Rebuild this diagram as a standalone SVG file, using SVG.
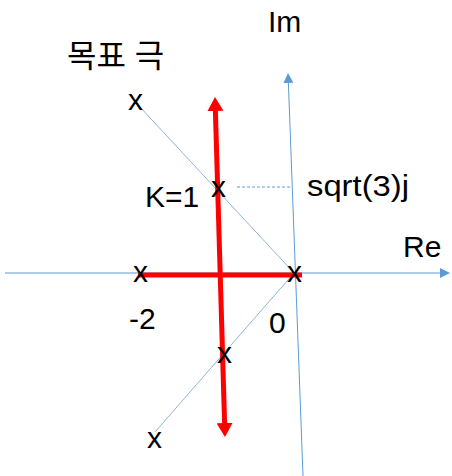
<svg xmlns="http://www.w3.org/2000/svg" width="452" height="476" viewBox="0 0 452 476">
  <defs>
    <style>
      .t { font-family: "Liberation Sans", Arial, sans-serif; font-size: 30px; fill: #000; }
      .kr { font-family: "Liberation Sans", "Noto Sans CJK KR", sans-serif; font-size: 32px; fill: #000; }
      .pole { font-family: "Liberation Sans", Arial, sans-serif; font-size: 30px; fill: #000; text-anchor: middle; }
      .axis { stroke: #5B9BD5; stroke-width: 1; fill: none; }
      .guide { stroke: #8FB4DE; stroke-width: 1; fill: none; }
      .dash { stroke: #5B9BD5; stroke-width: 1; stroke-dasharray: 3 2; fill: none; }
      .locus { stroke: #FF0000; stroke-width: 5; fill: none; }
    </style>
    <marker id="blueArrow" markerUnits="userSpaceOnUse" markerWidth="10" markerHeight="10" refX="0" refY="5" orient="auto" viewBox="0 0 10 10">
      <path d="M0,0 L10,5 L0,10 z" fill="#5B9BD5"/>
    </marker>
    <marker id="redArrow" markerUnits="userSpaceOnUse" markerWidth="14" markerHeight="16" refX="0" refY="8" orient="auto-start-reverse" viewBox="0 0 14 16">
      <path d="M0,0 L14,8 L0,16 z" fill="#FF0000"/>
    </marker>
  </defs>

  <g id="connectors">
    <line class="axis" x1="5" y1="273" x2="440" y2="273" marker-end="url(#blueArrow)"/>
    <line class="axis" x1="303" y1="476" x2="288.4" y2="83" marker-end="url(#blueArrow)"/>
    <line class="guide" x1="140" y1="107" x2="294" y2="273"/>
    <line class="guide" x1="294" y1="273" x2="155" y2="432"/>
    <line class="dash" x1="237" y1="187" x2="290" y2="187"/>
    <line class="locus" x1="138" y1="275" x2="302" y2="275"/>
    <line class="locus" x1="215.4" y1="111" x2="224.6" y2="423" marker-start="url(#redArrow)" marker-end="url(#redArrow)"/>
  </g>

  <g id="poles">
    <g id="pole1"><text class="pole" x="135.5" y="110">x</text></g>
    <g id="pole2"><text class="pole" x="218.5" y="197">x</text></g>
    <g id="pole3"><text class="pole" x="140.5" y="282">x</text></g>
    <g id="pole4"><text class="pole" x="294.5" y="282">x</text></g>
    <g id="pole5"><text class="pole" x="224.5" y="363">x</text></g>
    <g id="pole6"><text class="pole" x="154.5" y="448">x</text></g>
  </g>

  <g id="labels">
    <g id="title"><text class="kr" x="67" y="67">목표 극</text></g>
    <g id="im"><text class="t" x="268" y="32">Im</text></g>
    <g id="re"><text class="t" x="403" y="257">Re</text></g>
    <g id="k1"><text class="t" x="145" y="207">K=1</text></g>
    <g id="sqrt3"><text class="t" x="307" y="196" textLength="102" lengthAdjust="spacingAndGlyphs">sqrt(3)j</text></g>
    <g id="m2"><text class="t" x="129" y="329">-2</text></g>
    <g id="zero"><text class="t" x="269" y="333">0</text></g>
  </g>
</svg>
